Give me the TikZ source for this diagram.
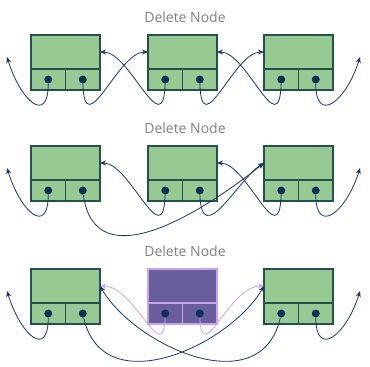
\documentclass[tikz,border=0pt]{standalone}
\usepackage{fontspec}
\setsansfont{Open Sans}
\usetikzlibrary{positioning,arrows.meta}

\definecolor{nodegreen}{HTML}{97CA93}
\definecolor{nodeedge}{HTML}{24504E}
\definecolor{linkblue}{HTML}{1D3764}
\definecolor{dotblue}{HTML}{0C2E5B}
\definecolor{delfill}{HTML}{685E9E}
\definecolor{deledge}{HTML}{C9A4EE}
\definecolor{titlegray}{HTML}{7F7F7F}

\begin{document}
\begin{tikzpicture}[x=1pt,y=-1pt,>={Stealth[length=6pt,width=5pt]}]
\tikzstyle{data}=[line width=1.2pt,minimum width=69pt,minimum height=34pt,inner sep=0pt,outer sep=0pt]
\tikzstyle{cell}=[line width=1.2pt,minimum width=34.5pt,minimum height=21pt,inner sep=0pt,outer sep=0pt]
\tikzstyle{live}=[draw=nodeedge,fill=nodegreen]
\tikzstyle{gone}=[draw=deledge,fill=delfill]
\tikzstyle{dot}=[circle,fill=dotblue,minimum size=8pt,inner sep=0pt]
\tikzstyle{link}=[->,draw=linkblue,line width=0.8pt]
\tikzstyle{oldlink}=[->,draw=deledge,line width=0.8pt]
\tikzstyle{title}=[font=\sffamily\fontsize{14}{16}\selectfont,text=titlegray]
\useasboundingbox (0,0) rectangle (370,367);

% titles and free ends of the outer links
\foreach \r/\y in {1/35,2/146,3/269} {
  \node[title] (t\r) at (185,\y-18) {Delete Node};
  \coordinate (l\r) at (7,\y+22);
  \coordinate (r\r) at (360,\y+22);
}

% list nodes: data field on top, prev and next cells below
\foreach \r/\c/\x/\y/\s in {1/1/31/35/live,1/2/148/35/live,1/3/264/35/live,
    2/1/31/146/live,2/2/148/146/live,2/3/264/146/live,
    3/1/31/269/live,3/2/148/269/gone,3/3/264/269/live} {
  \node[data,\s] (n\r\c) at (\x,\y) [anchor=north west] {};
  \node[cell,\s] (n\r\c p) at (n\r\c.south west) [anchor=north west] {};
  \node[cell,\s] (n\r\c n) at (n\r\c.south east) [anchor=north east] {};
  \node[dot] (p\r\c) at (n\r\c p) {};
  \node[dot] (q\r\c) at (n\r\c n) {};
}

% first list
\draw[link] (p11) .. controls +(0,45) and +(14,45) .. (l1);
\draw[link] (q11) .. controls +(2,65) and +(-30,0) .. (n12.west);
\draw[link] (p12) .. controls +(-2,65) and +(30,0) .. (n11.east);
\draw[link] (q12) .. controls +(2,65) and +(-30,0) .. (n13.west);
\draw[link] (p13) .. controls +(-2,65) and +(30,0) .. (n12.east);
\draw[link] (q13) .. controls +(0,45) and +(-14,45) .. (r1);

% second list
\draw[link] (p21) .. controls +(0,45) and +(14,45) .. (l2);
\draw[link] (q21) .. controls +(12,89) and +(-64,51) .. (n23.west);
\draw[link] (p22) .. controls +(-2,65) and +(30,0) .. (n21.east);
\draw[link] (q22) .. controls +(2,60) and +(-25,15) .. (n23.west);
\draw[link] (p23) .. controls +(-2,65) and +(30,0) .. (n22.east);
\draw[link] (q23) .. controls +(0,45) and +(-14,45) .. (r2);

% third list
\draw[oldlink] (p32) .. controls +(-2,55) and +(35,0) .. (n31.east);
\draw[oldlink] (q32) .. controls +(2,55) and +(-35,0) .. (n33.west);
\draw[link] (p31) .. controls +(0,45) and +(14,45) .. (l3);
\draw[link] (q31) .. controls +(20,90) and +(-35,60) .. (n33.west);
\draw[link] (p33) .. controls +(-20,90) and +(35,60) .. (n31.east);
\draw[link] (q33) .. controls +(0,45) and +(-14,45) .. (r3);
\end{tikzpicture}
\end{document}
